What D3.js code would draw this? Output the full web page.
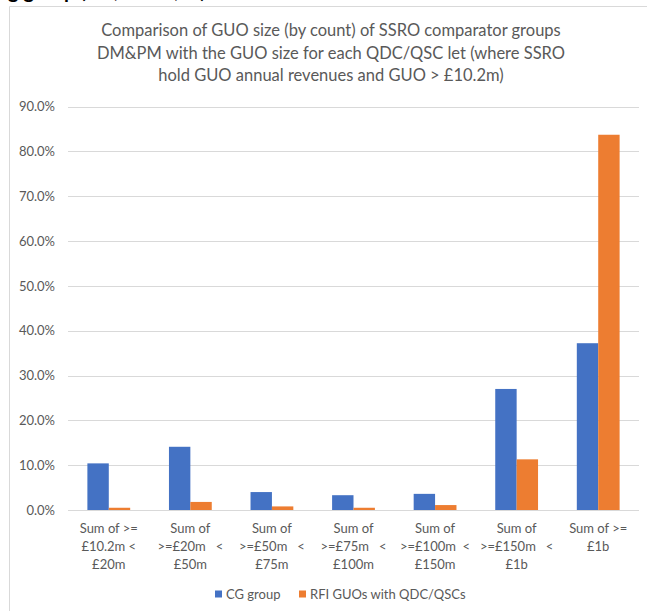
<!DOCTYPE html>
<html>
<head>
<meta charset="utf-8">
<script src="https://cdn.jsdelivr.net/npm/d3@7"></script>
<style>
  html, body { margin: 0; padding: 0; background: #fff; }
  svg { display: block; }
  text { font-family: Lato, "Open Sans", sans-serif; }
</style>
</head>
<body>
<svg id="chart" width="647" height="611"></svg>
<script>
// Size bands (each label is split into its wrapped lines)
const categories = ["c1", "c2", "c3", "c4", "c5", "c6", "c7"];
const categoryLines = [
  ["Sum of >=", "£10.2m <", "£20m"],
  ["Sum of", ">=£20m   <", "£50m"],
  ["Sum of", ">=£50m   <", "£75m"],
  ["Sum of", ">=£75m   <", "£100m"],
  ["Sum of", ">=£100m  <", "£150m"],
  ["Sum of", ">=£150m   <", "£1b"],
  ["Sum of >=", "£1b"]
];
const seriesNames = ["CG group", "RFI GUOs with QDC/QSCs"];
const cgGroup = [10.4, 14.1, 4.0, 3.3, 3.6, 27.0, 37.2];
const rfiGuos = [0.5, 1.8, 0.8, 0.5, 1.1, 11.3, 83.7];
const yTicks = [0, 10, 20, 30, 40, 50, 60, 70, 80, 90];
const titleLines = [
  "Comparison of GUO size (by count) of SSRO comparator groups",
  "DM&PM with the GUO size for each QDC/QSC let (where SSRO",
  "hold GUO annual revenues and GUO > £10.2m)"
];
const colors = ["#4472C4", "#ED7D31"];

const svg = d3.select("#chart");
const W = 647, H = 611;
const plot = { left: 68, right: 639, top: 106.5, bottom: 510 };

// Heading of the surrounding document, cut by the top edge
svg.append("text")
  .attr("x", 8).attr("y", -2)
  .attr("font-size", 20).attr("font-weight", "bold").attr("fill", "#000")
  .text("g group (£m, count, %)");

// Chart frame
svg.append("path")
  .attr("d", `M9.5,${H} V6.5 H${W}`)
  .attr("fill", "none").attr("stroke", "#d9d9d9").attr("stroke-width", 1);

// Title
svg.append("g").selectAll("text").data(titleLines).join("text")
  .attr("x", 331).attr("y", (d, i) => 36 + i * 22.5)
  .attr("text-anchor", "middle")
  .attr("font-size", 16.5).attr("fill", "#595959")
  .text(d => d);

const x = d3.scaleBand().domain(categories).range([plot.left, plot.right]).paddingInner(0).paddingOuter(0);
const y = d3.scaleLinear().domain([0, 90]).range([plot.bottom, plot.top]);

// Gridlines
svg.append("g").selectAll("line").data(yTicks).join("line")
  .attr("x1", plot.left).attr("x2", plot.right)
  .attr("y1", d => Math.round(y(d)) + 0.5).attr("y2", d => Math.round(y(d)) + 0.5)
  .attr("stroke", "#d9d9d9").attr("stroke-width", 1);

// Y axis labels
const yAxis = d3.axisLeft(y).tickValues(yTicks).tickSize(0).tickPadding(0)
  .tickFormat(d => d3.format(".1f")(d) + "%");
const yg = svg.append("g").attr("transform", "translate(55,0)").call(yAxis);
yg.select(".domain").remove();
yg.selectAll("text").attr("font-size", 13).attr("fill", "#595959")
  .attr("font-family", "Lato, 'Open Sans', sans-serif");

// Bars
const barW = 21.4;
const series = [cgGroup, rfiGuos];
const xs = d3.scaleBand().domain([0, 1]).range([0, barW * 2]);
series.forEach((vals, si) => {
  svg.append("g").selectAll("rect").data(vals).join("rect")
    .attr("x", (d, i) => x(categories[i]) + x.bandwidth() / 2 - barW + xs(si))
    .attr("y", d => y(d))
    .attr("width", xs.bandwidth())
    .attr("height", d => y(0) - y(d))
    .attr("fill", colors[si]);
});

// X category labels
const xl = svg.append("g");
categories.forEach((c, i) => {
  const t = xl.append("text")
    .attr("x", x(c) + x.bandwidth() / 2)
    .attr("y", 533)
    .attr("text-anchor", "middle")
    .attr("font-size", 13).attr("fill", "#595959")
    .style("white-space", "pre");
  categoryLines[i].forEach((ln, j) => {
    t.append("tspan")
      .attr("x", x(c) + x.bandwidth() / 2)
      .attr("dy", j === 0 ? 0 : 18)
      .text(ln);
  });
});

// Legend
const legendX = [215, 299];
const lg = svg.append("g");
seriesNames.forEach((n, i) => {
  lg.append("rect").attr("x", legendX[i]).attr("y", 590.5).attr("width", 7).attr("height", 7)
    .attr("fill", colors[i]);
  lg.append("text").attr("x", legendX[i] + 11).attr("y", 598.5)
    .attr("font-size", 13).attr("fill", "#595959").text(n);
});
</script>
</body>
</html>
